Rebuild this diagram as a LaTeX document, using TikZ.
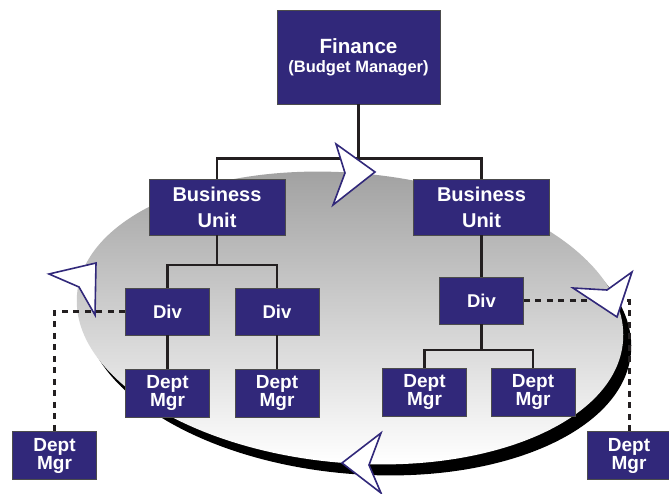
\documentclass[tikz,border=0pt]{standalone}
\usepackage{fontspec}
\setmainfont{Liberation Sans}
\usepackage{xcolor}

\definecolor{azulcaixa}{RGB}{49,40,122}
\definecolor{linha}{RGB}{35,31,32}

\tikzset{
  caixa/.style={draw=black!70, line width=0.8pt, fill=azulcaixa, text=white,
    align=center, inner sep=0pt},
  chefe/.style={caixa, minimum width=163pt, minimum height=94pt,
    font=\bfseries\fontsize{20.6}{20}\selectfont},
  unidade/.style={caixa, minimum width=136pt, minimum height=56pt,
    font=\bfseries\fontsize{20}{26}\selectfont},
  divisao/.style={caixa, minimum width=84pt, minimum height=47pt,
    font=\bfseries\fontsize{18.5}{18}\selectfont},
  gerente/.style={caixa, minimum width=84pt, minimum height=48pt,
    font=\bfseries\fontsize{19}{18}\selectfont},
  ligacao/.style={draw=linha, line width=2.6pt},
  pontilhado/.style={draw=linha, line width=3pt, dash pattern=on 6pt off 5.5pt},
  seta/.style={fill=white, draw=azulcaixa, line width=1.6pt, line join=miter},
  disco/.style={x radius=274pt, y radius=145pt, rotate=-5},
}

\begin{document}
\begin{tikzpicture}[x=1pt, y=-1pt]
    \useasboundingbox (0,0) rectangle (669,494);

    % Elipse de fundo com sombra
    \fill[black] (358,329) ellipse [disco];
    \shade[top color=black!38, bottom color=white] (350,318) ellipse [disco];

    % Caixas
    \node[chefe] (fin) at (358.5,57) {Finance\\[-1pt]{\fontsize{16.5}{16}\selectfont (Budget Manager)}};
    \node[unidade] (bu1) at (217,207) {Business\\Unit};
    \node[unidade] (bu2) at (481.5,207) {Business\\Unit};
    \node[divisao] (div1) at (167.5,311.5) {Div};
    \node[divisao] (div2) at (277,311.5) {Div};
    \node[divisao] (div3) at (481.5,300.5) {Div};
    \node[gerente] (dm1) at (167.5,393) {Dept\\Mgr};
    \node[gerente] (dm2) at (277,393) {Dept\\Mgr};
    \node[gerente] (dm3) at (424.5,392) {Dept\\Mgr};
    \node[gerente] (dm4) at (533,392) {Dept\\Mgr};
    \node[gerente] (dm5) at (54.5,455.5) {Dept\\Mgr};
    \node[gerente] (dm6) at (629,455.5) {Dept\\Mgr};

    % Ligacoes da hierarquia
    \draw[ligacao] (fin.south) -- (fin.south |- 0,158.5);
    \draw[ligacao] (bu1.north) |- (fin.south |- 0,158.5) -| (bu2.north);
    \draw[ligacao] (bu1.south) -- (bu1.south |- 0,265);
    \draw[ligacao] (div1.north) |- (bu1.south |- 0,265) -| (div2.north);
    \draw[ligacao] (bu2.south) -- (div3.north);
    \draw[ligacao] (div1.south) -- (dm1.north);
    \draw[ligacao] (div2.south) -- (dm2.north);
    \draw[ligacao] (div3.south) -- (div3.south |- 0,350);
    \draw[ligacao] (dm3.north) |- (div3.south |- 0,350) -| (dm4.north);

    % Ligacoes pontilhadas
    \draw[pontilhado] (div1.west) -| (dm5.north);
    \draw[pontilhado] (div3.east) -| (dm6.north);

    % Setas do ciclo
    \draw[seta] (375,172) -- (336,144) -- (345,173) -- (333,205) -- cycle;
    \draw[seta] (617,317) -- (573,288) -- (607,290) -- (632,272) -- cycle;
    \draw[seta] (342,463) -- (381,433) -- (369,465) -- (381,493) -- cycle;
    \draw[seta] (96,263) -- (49,274) -- (79,287) -- (95,315) -- cycle;
\end{tikzpicture}
\end{document}
